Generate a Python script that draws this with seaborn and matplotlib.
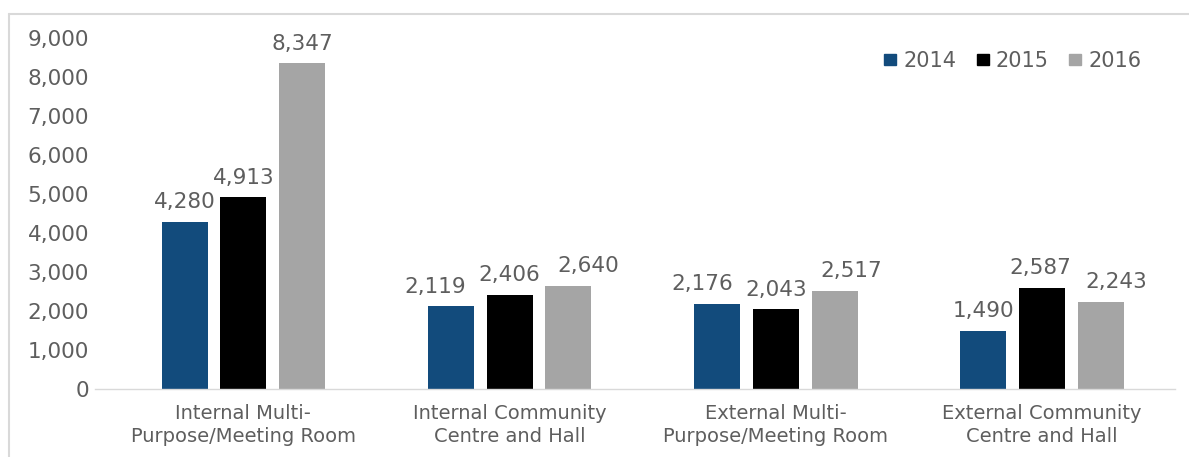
import matplotlib
matplotlib.use("Agg")
import matplotlib.pyplot as plt
from matplotlib.lines import Line2D
import seaborn as sns
import pandas as pd

# Bookings by venue type and year
categories = [
    "Internal Multi-\nPurpose/Meeting Room",
    "Internal Community\nCentre and Hall",
    "External Multi-\nPurpose/Meeting Room",
    "External Community\nCentre and Hall",
]
years = ["2014", "2015", "2016"]
values_2014 = [4280, 2119, 2176, 1490]
values_2015 = [4913, 2406, 2043, 2587]
values_2016 = [8347, 2640, 2517, 2243]
y_ticks = [0, 1000, 2000, 3000, 4000, 5000, 6000, 7000, 8000, 9000]

colors = ["#124B7C", "#000000", "#A5A5A5"]
text_color = "#5E5E5E"

# horizontal nudges (pixels) that keep neighbouring value labels apart,
# one row per year, one entry per category
label_nudge_px = [
    [0, -16, -15, 0],
    [0, 0, 0, -2],
    [0, 20, 17, 15],
]

df = pd.DataFrame({
    "category": categories * 3,
    "year": [y for y in years for _ in categories],
    "value": values_2014 + values_2015 + values_2016,
})

sns.set_theme(style="white")
plt.rcParams["font.family"] = ["DejaVu Sans"]

W, H = 1189, 457
fig = plt.figure(figsize=(W / 100, H / 100), dpi=100)
ax_left, ax_right, ax_bottom, ax_top = 95, 1175, 389, 38
ax = fig.add_axes([ax_left / W, 1 - ax_bottom / H,
                   (ax_right - ax_left) / W, (ax_bottom - ax_top) / H])

sns.barplot(data=df, x="category", y="value", hue="year",
            hue_order=years, order=categories, palette=colors,
            width=0.662, gap=0.216, saturation=1, ax=ax, legend=True,
            linewidth=0)

px_to_pt = 72 / 100
for container, nudges in zip(ax.containers, label_nudge_px):
    for bar, dx in zip(container, nudges):
        h = bar.get_height()
        ax.annotate(f"{h:,.0f}", (bar.get_x() + bar.get_width() / 2, h),
                    xytext=(dx * px_to_pt, 7), textcoords="offset points",
                    ha="center", va="bottom", fontsize=15.5, color=text_color)

ax.set_ylim(0, 9000)
ax.set_xlim(-0.557, 3.499)
ax.set_yticks(y_ticks)
ax.set_yticklabels([f"{v:,}" for v in y_ticks])
ax.tick_params(axis="y", length=0, pad=4.3, labelsize=15.5, labelcolor=text_color)
ax.tick_params(axis="x", length=0, pad=10.6, labelsize=14, labelcolor=text_color)
ax.set_xlabel("")
ax.set_ylabel("")
for lbl in ax.get_xticklabels():
    lbl.set_linespacing(1.3)

for side in ["top", "right", "left"]:
    ax.spines[side].set_visible(False)
ax.spines["bottom"].set_color("#D9D9D9")
ax.spines["bottom"].set_linewidth(1.0)

ax.legend_.remove()
handles = [plt.Rectangle((0, 0), 1, 1, color=c) for c in colors]
fig.legend(handles, years, loc="center left",
           bbox_to_anchor=(884 / W, 1 - 61 / H), ncol=3, frameon=False,
           fontsize=15, labelcolor=text_color, handlelength=0.58,
           handleheight=0.48, handletextpad=0.34, columnspacing=0.98,
           borderpad=0, borderaxespad=0)

# Outer frame: top and left edges
frame_color = "#D9D9D9"
fig.add_artist(Line2D([9 / W, 1], [1 - 14 / H, 1 - 14 / H],
                      transform=fig.transFigure, color=frame_color, lw=1.5))
fig.add_artist(Line2D([9 / W, 9 / W], [0, 1 - 14 / H],
                      transform=fig.transFigure, color=frame_color, lw=1.5))

fig.savefig("out.png", dpi=100)
